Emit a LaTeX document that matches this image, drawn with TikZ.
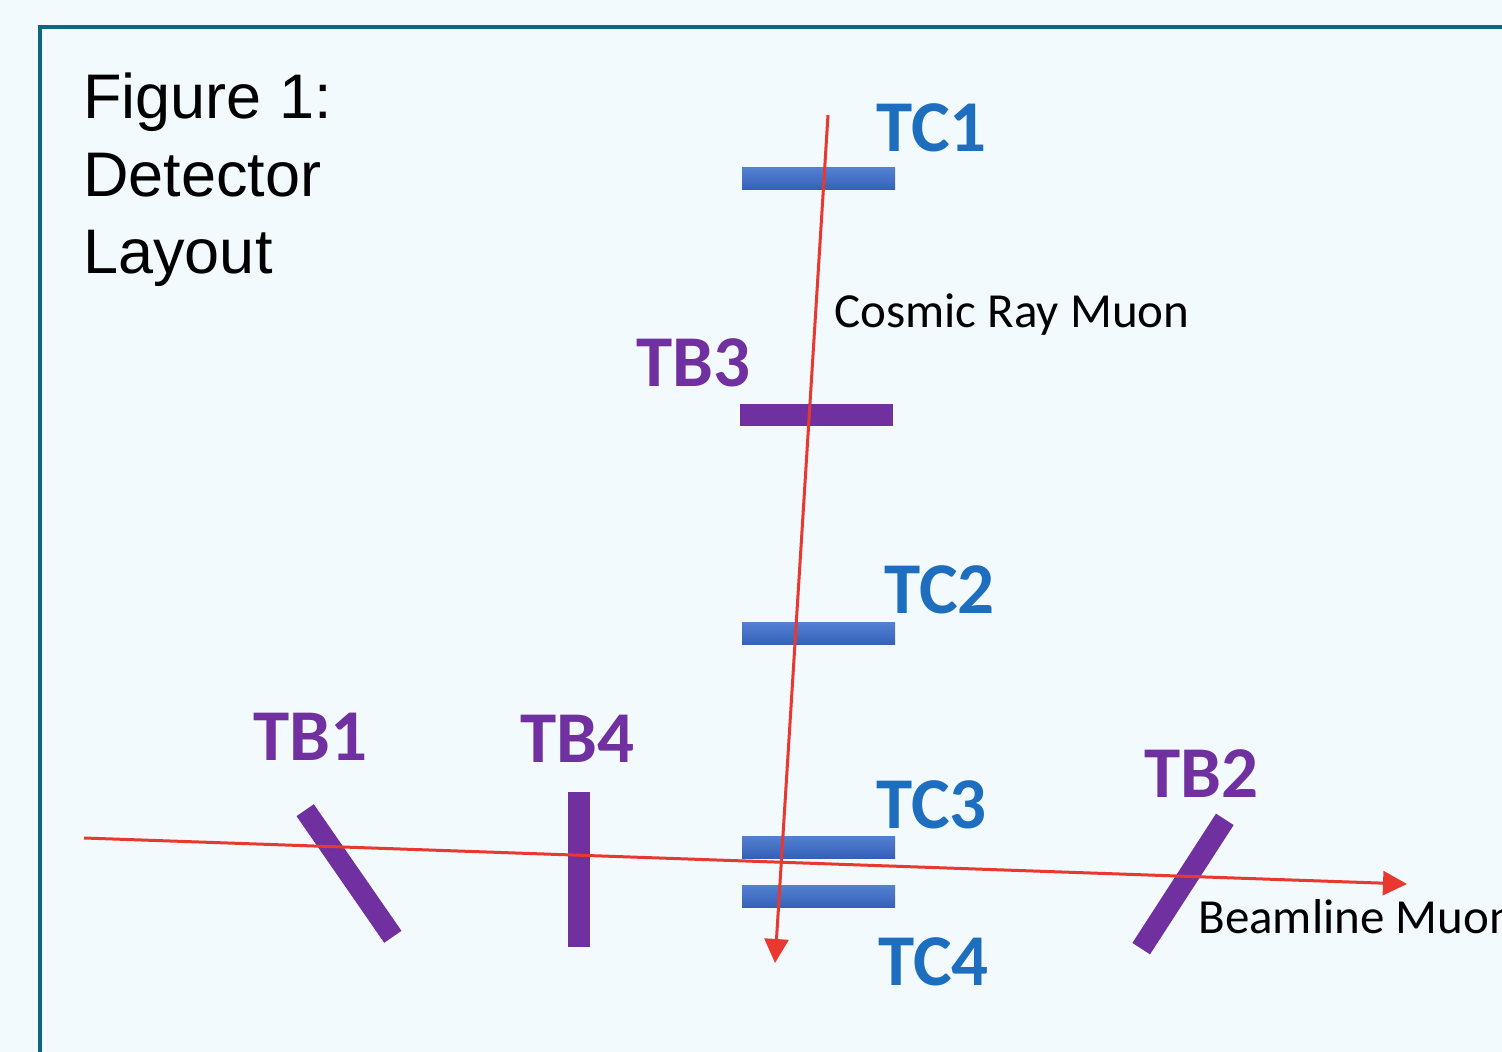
\documentclass[tikz,border=0pt]{standalone}
\usepackage{fontspec}
\setmainfont{Liberation Sans}
\newfontfamily\calib{Carlito}
\usetikzlibrary{arrows.meta}
\definecolor{bgc}{RGB}{243,250,253}
\definecolor{framec}{RGB}{14,102,128}
\definecolor{tcblue}{RGB}{30,110,192}
\definecolor{bartop}{RGB}{84,128,210}
\definecolor{barbot}{RGB}{52,96,184}
\definecolor{tbpurple}{RGB}{112,48,160}
\definecolor{muonred}{RGB}{232,56,47}
\tikzset{
  tcbar/.style={rectangle, inner sep=0pt, minimum width=76.5pt, minimum height=11pt, top color=bartop, bottom color=barbot, draw=none},
  tbbar/.style={rectangle, inner sep=0pt, minimum width=77pt, minimum height=10.5pt, fill=tbpurple, draw=none},
  tclabel/.style={anchor=base west, inner sep=0pt, text=tcblue, font=\calib\bfseries\fontsize{36.5pt}{40pt}\selectfont},
  tblabel/.style={anchor=base west, inner sep=0pt, text=tbpurple, font=\calib\bfseries\fontsize{36.5pt}{40pt}\selectfont},
  muonlabel/.style={anchor=base west, inner sep=0pt, text=black, font=\calib\fontsize{24.5pt}{28pt}\selectfont},
  muon/.style={draw=muonred, line width=1.5pt, -{Triangle[length=12pt,width=12pt]}}
}
\begin{document}
\begin{tikzpicture}[x=0.5pt,y=-0.5pt]
\useasboundingbox (0,0) rectangle (1502,1052);
\fill[bgc] (0,0) rectangle (1502,1052);
\begin{scope}
\clip (0,0) rectangle (1502,1052);
\draw[framec, line width=2pt] (40,1070) -- (40,27) -- (1520,27);
\end{scope}
% title (anchor at baseline of last line)
\node[anchor=base west, inner sep=0pt, align=left, font=\fontsize{31.5pt}{38.75pt}\selectfont] (title) at (83,274) {Figure 1:\\Detector\\Layout};
% horizontal bars
\node[tcbar] (tc1) at (818.5,179) {};
\node[tbbar, minimum width=76.5pt, minimum height=11pt] (tb3) at (816.5,415) {};
\node[tcbar] (tc2) at (818.5,633.5) {};
\node[tcbar] (tc3) at (818.5,847) {};
\node[tcbar] (tc4) at (818.5,896.5) {};
% TB bars
\node[tbbar, rotate=-55.3] (tb1) at (349,873.5) {};
\node[tbbar, rotate=90, minimum width=77.5pt, minimum height=11pt] (tb4) at (579,869) {};
\node[tbbar, rotate=57.1] (tb2) at (1183,884) {};
% muon tracks
\coordinate (cosStart) at (828,115);
\coordinate (cosEnd) at (775,963);
\coordinate (beamStart) at (84,838);
\coordinate (beamEnd) at (1407,884);
\draw[muon] (cosStart) -- (cosEnd);
\draw[muon] (beamStart) -- (beamEnd);
% labels
\node[tclabel] (ltc1) at (876,152) {TC1};
\node[tblabel] (ltb3) at (636,387) {TB3};
\node[tclabel] (ltc2) at (884,613) {TC2};
\node[tblabel] (ltb1) at (253,760) {TB1};
\node[tblabel] (ltb4) at (520,762) {TB4};
\node[tclabel] (ltc3) at (876,828) {TC3};
\node[tblabel] (ltb2) at (1144,797) {TB2};
\node[tclabel] (ltc4) at (878,985) {TC4};
\node[muonlabel] (lcos) at (834,328) {Cosmic Ray Muon};
\node[muonlabel] (lbeam) at (1198,933) {Beamline Muon};
\end{tikzpicture}
\end{document}
